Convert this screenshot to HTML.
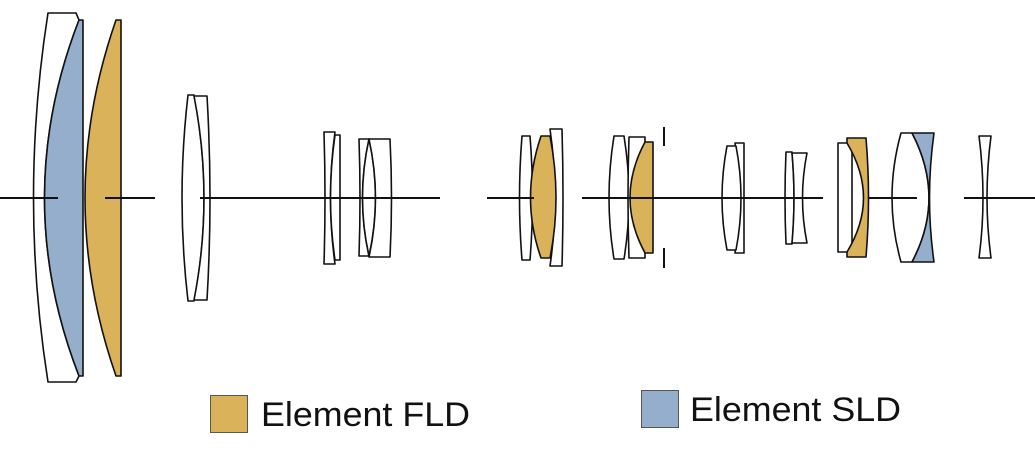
<!DOCTYPE html>
<html><head><meta charset="utf-8"><style>
html,body{margin:0;padding:0;background:#fff;width:1035px;height:452px;overflow:hidden}
svg{display:block}
</style></head><body>
<svg width="1035" height="452" viewBox="0 0 1035 452" xmlns="http://www.w3.org/2000/svg">
<g stroke="#111" stroke-width="1.6" stroke-linejoin="round">
<path d="M48,13 L76,13 L79,20 Q10,198 79,376 L76,382 L48,382 Q19,198 48,13 Z" fill="#fff"/>
<path d="M79,20 L83,20 L83,376 L79,376 Q10,198 79,20 Z" fill="#94aecb"/>
<path d="M116,20 L121,20 L121,376 L116,376 Q54,198 116,20 Z" fill="#d9b25a"/>
<path d="M188,95 L194,95 Q214,198 194,301 L188,301 Q176,198 188,95 Z" fill="#fff"/>
<path d="M194,96 L207,96 Q213,198 207,300 L194,300 Q214,198 194,96 Z" fill="#fff"/>
<path d="M324,132 L335,132 Q326,198 335,264 L324,264 Q326,198 324,132 Z" fill="#fff"/>
<path d="M335,135 L340,135 L340,260 L335,260 Q326,198 335,135 Z" fill="#fff"/>
<path d="M359,139 L369,139 Q356,198 369,256 L359,256 Q361,198 359,139 Z" fill="#fff"/>
<path d="M369,139 Q356,198 369,256 Q382,198 369,139 Z" fill="#fff"/>
<path d="M369,139 L390,139 Q393,198 390,257 L369,257 Q382,198 369,139 Z" fill="#fff"/>
<path d="M522,136 L530,136 Q535,198 530,260 L522,260 Q517,198 522,136 Z" fill="#fff"/>
<path d="M550,129 L562,129 Q564,198 562,266 L550,266 Q560,198 550,129 Z" fill="#fff"/>
<path d="M541,136 L550,136 Q562,198 550,258 L541,258 Q520,198 541,136 Z" fill="#d9b25a"/>
<path d="M614,136 L624,136 Q634,198 624,259 L614,259 Q604,198 614,136 Z" fill="#fff"/>
<path d="M629,137 L645,137 L645,258 L629,258 Q627,198 629,137 Z" fill="#fff"/>
<path d="M645,142 L653,142 L653,253 L645,253 Q615,198 645,142 Z" fill="#d9b25a"/>
<path d="M735,143 L744,143 L744,253 L735,253 Q742,198 735,143 Z" fill="#fff"/>
<path d="M727,146 L736,146 Q746,198 736,250 L727,250 Q717,198 727,146 Z" fill="#fff"/>
<path d="M786,152 L792,152 Q796,198 792,244 L786,244 Q784,198 786,152 Z" fill="#fff"/>
<path d="M792,153 L807,153 Q798,198 807,243 L792,243 Q796,198 792,153 Z" fill="#fff"/>
<path d="M838,143 L852,143 L852,252 L838,252 Z" fill="#fff"/>
<path d="M847,138 L866,138 Q871,198 866,257 L847,257 L847,252 Q880,198 847,143 Z" fill="#d9b25a"/>
<path d="M901,133 L912,133 Q946,198 912,262 L901,262 Q883,198 901,133 Z" fill="#fff"/>
<path d="M912,133 L934,133 Q925,198 934,262 L912,262 Q946,198 912,133 Z" fill="#94aecb"/>
<path d="M979,136 L991,136 Q983,198 991,258 L979,258 Q987,198 979,136 Z" fill="#fff"/>
</g>
<g stroke="#111" stroke-width="2" fill="none">
<line x1="0" y1="198" x2="58" y2="198"/>
<line x1="105" y1="198" x2="155" y2="198"/>
<line x1="200" y1="198" x2="440" y2="198"/>
<line x1="487" y1="198" x2="534" y2="198"/>
<line x1="582" y1="198" x2="823" y2="198"/>
<line x1="868" y1="198" x2="917" y2="198"/>
<line x1="964" y1="198" x2="1035" y2="198"/>
<line x1="664" y1="127" x2="664" y2="146"/>
<line x1="664" y1="248" x2="664" y2="268"/>
</g>
<rect x="210.5" y="395.5" width="37" height="37" fill="#d9b25a" stroke="#555" stroke-width="1"/>
<text x="261" y="426" font-family="Liberation Sans, sans-serif" font-size="34" fill="#111" textLength="209" lengthAdjust="spacingAndGlyphs">Element FLD</text>
<rect x="641.5" y="390.5" width="37" height="37" fill="#94aecb" stroke="#555" stroke-width="1"/>
<text x="690" y="421" font-family="Liberation Sans, sans-serif" font-size="34" fill="#111" textLength="211" lengthAdjust="spacingAndGlyphs">Element SLD</text>
</svg>
</body></html>
